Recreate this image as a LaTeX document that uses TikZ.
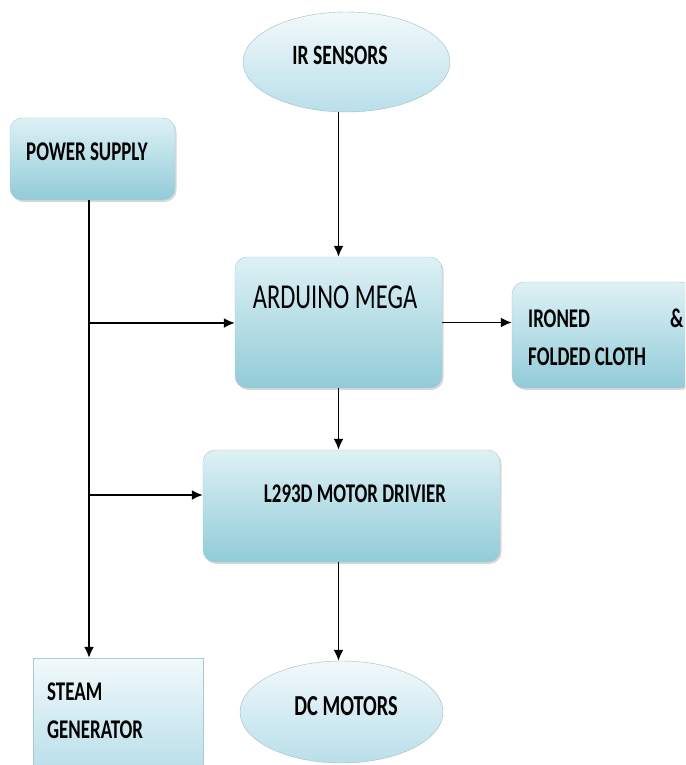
\documentclass[tikz,border=0pt]{standalone}
\usepackage{fontspec}
\setmainfont{Carlito}[FakeStretch=0.7]
\usetikzlibrary{arrows.meta,shapes.geometric,shadows}
\definecolor{boxtop}{RGB}{222,241,245}
\definecolor{boxbot}{RGB}{145,203,216}
\definecolor{boxline}{RGB}{170,202,210}
\definecolor{elltop}{RGB}{242,249,251}
\definecolor{ellbot}{RGB}{185,223,234}

\begin{document}
\begin{tikzpicture}[x=1pt,y=-1pt,
  block/.style={draw=boxline, rounded corners=12pt, top color=boxtop, bottom color=boxbot,
    drop shadow={shadow xshift=1.5pt,shadow yshift=-2pt,opacity=0.3}, inner sep=0pt},
  oval/.style={ellipse, draw=boxline!80!gray, top color=elltop, bottom color=ellbot, inner sep=0pt},
  flatbox/.style={rectangle, draw=boxline, top color=elltop, bottom color=ellbot, inner sep=0pt},
  lbl/.style={font=\bfseries\fontsize{27}{32}\selectfont, inner sep=0pt, anchor=base west},
  wire/.style={line width=1.8pt, black},
  >={Latex[length=11pt,width=10pt]}]
\useasboundingbox (0,0) rectangle (685,765);
\clip (0,0) rectangle (685,765);

\node[oval, minimum width=207pt, minimum height=100pt] (ir) at (346.5,62) {};
\node[lbl, font=\bfseries\fontsize{28}{32}\selectfont, anchor=base] (irtxt) at (340,65) {IR SENSORS};
\node[block, minimum width=165pt, minimum height=82pt] (power) at (92.5,159) {};
\node[lbl] (powertxt) at (26,160) {POWER SUPPLY};
\node[block, minimum width=207pt, minimum height=131pt] (arduino) at (338.5,322.5) {};
\node[lbl, font=\fontsize{35}{40}\selectfont, anchor=base] (arduinotxt) at (335,308) {ARDUINO MEGA};
\node[block, minimum width=180pt, minimum height=106pt] (ironed) at (602,335) {};
\node[lbl] (ironedtxt) at (528,327) {IRONED};
\node[lbl] (amptxt) at (670,327) {\&};
\node[lbl] (foldedtxt) at (528,365) {FOLDED CLOTH};
\node[block, minimum width=297pt, minimum height=112pt] (driver) at (351.5,506) {};
\node[lbl, anchor=base] (drivertxt) at (355,502) {L293D MOTOR DRIVIER};
\node[flatbox, minimum width=170pt, minimum height=112pt] (steam) at (118,714) {};
\node[lbl] (steamtxt) at (47,700) {STEAM};
\node[lbl] (gentxt) at (47,738) {GENERATOR};
\node[oval, minimum width=203pt, minimum height=102pt] (dc) at (341.5,712) {};
\node[lbl, font=\bfseries\fontsize{29}{32}\selectfont, anchor=base] (dctxt) at (346,715) {DC MOTORS};

\coordinate (j1) at (89,323);
\coordinate (j2) at (89,495);
\draw[wire] (power.south -| j1) -- (j1) -- (j2);
\draw[wire,->] (j2) -- (j2 |- steam.north);
\draw[wire,->] (j1) -- (j1 -| arduino.west);
\draw[wire,->] (j2) -- (j2 -| driver.west);
\draw[wire,->] (ir.south -| arduino.north) -- (arduino.north);
\draw[wire,->] (arduino.east) -- (arduino.east -| ironed.west);
\draw[wire,->] (arduino.south) -- (arduino.south |- driver.north);
\draw[wire,->] (arduino.south |- driver.south) -- (arduino.south |- dc.north);
\end{tikzpicture}
\end{document}
